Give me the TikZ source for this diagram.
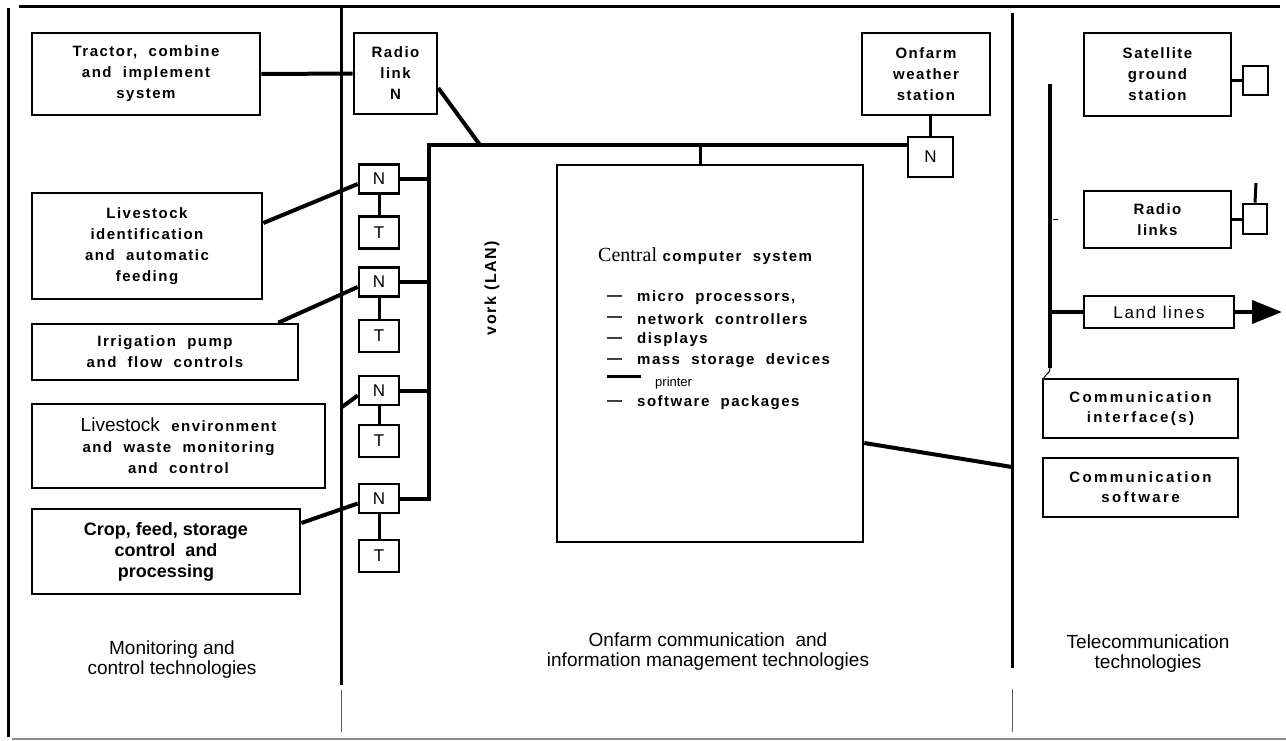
\documentclass[tikz,border=0pt]{standalone}
\usepackage{fontspec}
\setmainfont{Liberation Sans}
\newfontfamily\lsfont[LetterSpace=10]{Liberation Sans}
\newfontfamily\lswfont[LetterSpace=16]{Liberation Sans}
\newfontfamily\serfont{Liberation Serif}
\usetikzlibrary{arrows.meta}
\newcommand\bxf{\lsfont\bfseries\fontsize{15}{21}\selectfont}
\begin{document}
\begin{tikzpicture}[x=1pt,y=-1pt,
  box/.style={draw, line width=2.6pt, inner sep=0pt, align=center, font=\bxf},
  ntbox/.style={draw, line width=2.6pt, inner sep=0pt, minimum width=40pt, font=\fontsize{17}{17}\selectfont},
  conn/.style={line width=4pt},
  tconn/.style={line width=3pt},
  frame/.style={line width=3pt},
  thinline/.style={line width=1pt, black!65},
  caption/.style={align=center, font=\fontsize{19}{20}\selectfont},
  item/.style={anchor=west, inner sep=0pt, font=\bxf}
]
\useasboundingbox (0,0) rectangle (1286,740);

% frame and dividers
\coordinate (topL) at (19,6);
\coordinate (topR) at (1280,6);
\draw[frame] (topL) -- (topR);
\coordinate (lb1) at (8,8);
\coordinate (lb2) at (8,737);
\draw[frame] (lb1) -- (lb2);
\coordinate (bb1) at (12,739);
\coordinate (bb2) at (1286,739);
\draw[line width=2pt, black!45] (bb1) -- (bb2);
\coordinate (d1a) at (341,8);
\coordinate (d1b) at (341,685);
\coordinate (d1c) at (341,690);
\coordinate (d1d) at (341,732);
\draw[frame] (d1a) -- (d1b);
\draw[thinline] (d1c) -- (d1d);
\coordinate (d2a) at (1012,13);
\coordinate (d2b) at (1012,668);
\coordinate (d2c) at (1012,689);
\coordinate (d2d) at (1012,732);
\draw[frame] (d2a) -- (d2b);
\draw[thinline] (d2c) -- (d2d);

% left column boxes
\node[box, minimum width=228pt, minimum height=82pt] (tractor) at (146,74) {Tractor,\ \ combine\\and\ \ implement\\system};
\node[box, minimum width=230pt, minimum height=106pt] (liv) at (147,246) {Livestock\\identification\\and\ \ automatic\\feeding};
\node[box, minimum width=266pt, minimum height=56pt] (irr) at (165,352) {Irrigation\ \ pump\\and\ \ flow\ \ controls};
\node[box, minimum width=293pt, minimum height=84pt] (env) at (178.5,446) {{\mdseries\fontsize{19}{21}\selectfont\addfontfeatures{LetterSpace=0}Livestock}\ \ environment\\and\ \ waste\ \ monitoring\\and\ \ control};
\node[box, minimum width=268pt, minimum height=85pt, font=\bfseries\fontsize{18}{21}\selectfont] (crop) at (166,551.5) {Crop, feed, storage\\control\ \ and\\processing};

% middle column
\node[box, minimum width=83pt, minimum height=81pt] (radio) at (395.5,73.5) {Radio\\link\\N};
\node[box, minimum width=128pt, minimum height=82pt] (weather) at (926,74) {Onfarm\\weather\\station};
\node[ntbox, minimum width=45pt, minimum height=40pt] (wN) at (930.5,157) {N};

\node[ntbox, minimum height=29pt] (N1) at (379,179) {N};
\node[ntbox, minimum height=32pt] (T1) at (379,232.5) {T};
\node[ntbox, minimum height=29pt] (N2) at (379,282) {N};
\node[ntbox, minimum height=32pt] (T2) at (379,336) {T};
\node[ntbox, minimum height=29pt] (N3) at (379,390.5) {N};
\node[ntbox, minimum height=32pt] (T3) at (379,441) {T};
\node[ntbox, minimum height=29pt] (N4) at (379,498.5) {N};
\node[ntbox, minimum height=32pt] (T4) at (379,556) {T};

\node[draw, line width=2.6pt, minimum width=306pt, minimum height=377pt, inner sep=0pt] (central) at (710,353.5) {};

\node[anchor=center, rotate=90, inner sep=0pt, font=\lsfont\bfseries\fontsize{16}{16}\selectfont] (lan) at (492,288) {vork (LAN)};

\node[anchor=west, inner sep=0pt] (ctitle) at (598,256) {{\serfont\fontsize{20}{20}\selectfont Central}\ \ {\bxf computer\ \ system}};
\node[item] (d1) at (607,298) {—};
\node[item] (i1) at (637,298) {micro\ \ processors,};
\node[item] (d2) at (607,319) {—};
\node[item] (i2) at (637,319) {network\ \ controllers};
\node[item] (d3) at (607,340) {—};
\node[item] (i3) at (637,340) {displays};
\node[item] (d4) at (607,361) {—};
\node[item] (i4) at (637,361) {mass\ \ storage\ \ devices};
\coordinate (pd1) at (607,376);
\coordinate (pd2) at (641,376);
\draw[line width=3pt] (pd1) -- (pd2);
\node[anchor=west, inner sep=0pt, font=\fontsize{13}{13}\selectfont] (i5) at (655,383) {printer};
\node[item] (d6) at (607,403) {—};
\node[item] (i6) at (637,403) {software\ \ packages};

% right column
\node[box, minimum width=147pt, minimum height=83pt] (sat) at (1157.5,74.5) {Satellite\\ground\\station};
\node[draw, line width=2.6pt, minimum width=25pt, minimum height=29pt, inner sep=0pt] (satSq) at (1255.5,80.5) {};
\node[box, minimum width=147pt, minimum height=57pt] (rl) at (1157.5,219.5) {Radio\\links};
\node[draw, line width=2.6pt, minimum width=24pt, minimum height=30pt, inner sep=0pt] (rlSq) at (1255,219) {};
\node[draw, line width=2.6pt, minimum width=150pt, minimum height=32pt, inner sep=0pt, font=\lsfont\fontsize{17}{17}\selectfont] (land) at (1159,312) {Land lines};
\node[box, minimum width=195pt, minimum height=59pt, font=\lswfont\bfseries\fontsize{15}{20}\selectfont] (ci) at (1140.5,408.5) {Communication\\interface(s)};
\node[box, minimum width=195pt, minimum height=59pt, font=\lswfont\bfseries\fontsize{15}{20}\selectfont] (cs) at (1140.5,487.5) {Communication\\software};

% captions
\node[caption] (cap1) at (172,660) {Monitoring and\\control technologies};
\node[caption] (cap2) at (708,652) {Onfarm communication\ \ and\\information management technologies};
\node[caption] (cap3) at (1148,654) {Telecommunication\\technologies};

% connectors, left and middle
\draw[conn] (tractor.east) -- (radio.west);
\coordinate (busTL) at (429,145);
\coordinate (rb) at (480,145);
\draw[conn] ([yshift=-14.5pt]radio.east) -- (rb);
\draw[conn] (N4.east) -| (busTL) -- ([yshift=12pt]wN.west);
\draw[conn] (N1.east) -- (N1.east -| busTL);
\draw[conn] (N2.east) -- (N2.east -| busTL);
\draw[conn] (N3.east) -- (N3.east -| busTL);
\draw[tconn] (N1.south) -- (T1.north);
\draw[tconn] (N2.south) -- (T2.north);
\draw[tconn] (N3.south) -- (T3.north);
\draw[tconn] (N4.south) -- (T4.north);
\draw[conn] ([yshift=23pt]liv.east) -- ([yshift=-5pt]N1.west);
\draw[conn] ([xshift=-21pt]irr.north east) -- ([yshift=-5pt]N2.west);
\coordinate (envd) at (342,407);
\draw[conn] (envd) -- ([yshift=-5pt]N3.west);
\draw[conn] ([yshift=28.5pt]crop.east) -- ([yshift=-5pt]N4.west);
\draw[tconn] ([xshift=-10pt]central.north) -- ([xshift=-10pt]central.north |- busTL);
\draw[tconn] (wN.north) -- (wN.north |- weather.south);
\coordinate (cd) at (1012,467);
\draw[conn] ([yshift=-89.5pt]central.east) -- (cd);

% connectors, right
\draw[tconn] (satSq.west) -- (satSq.west -| sat.east);
\draw[tconn] (rlSq.west) -- (rlSq.west -| rl.east);
\coordinate (ant) at (1256,183);
\draw[tconn] (rlSq.north) -- (ant);
\coordinate (tb1) at (1050,84);
\coordinate (tb2) at (1050,368);
\draw[line width=4.5pt] (tb1) -- (tb2);
\coordinate (hk) at (1044,378);
\draw[line width=1pt] (tb2) .. controls (1050,374) and (1046,373) .. (hk);
\coordinate (tk1) at (1053,219);
\coordinate (tk2) at (1058,219);
\draw[line width=1pt] (tk1) -- (tk2);
\draw[conn] (land.west) -- (land.west -| tb1);
\coordinate (arrend) at (1282,312);
\draw[conn, -{Triangle[length=30pt,width=23pt]}] (land.east) -- (arrend);
\end{tikzpicture}
\end{document}
